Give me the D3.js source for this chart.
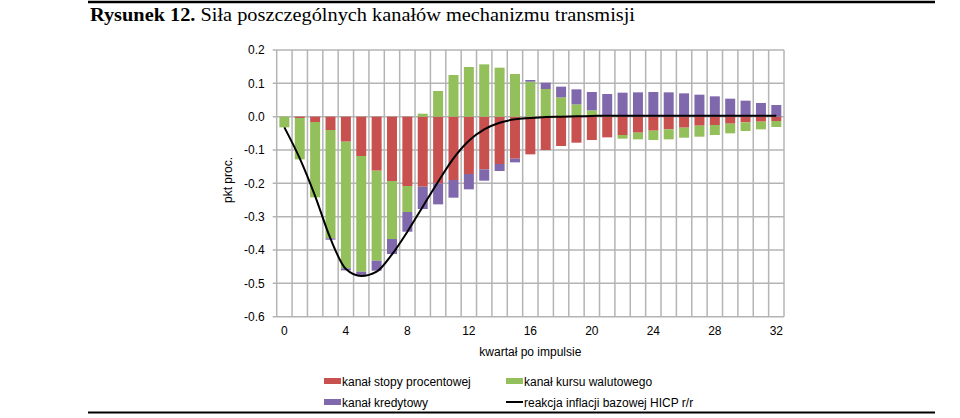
<!DOCTYPE html>
<html>
<head>
<meta charset="utf-8">
<script src="https://cdn.jsdelivr.net/npm/d3@7"></script>
<style>
  body { margin: 0; background: #fff; }
  text { font-family: "Liberation Sans", Arial, sans-serif; }
</style>
</head>
<body>
<svg id="draw" width="960" height="418"></svg>
<script>
// kwartały 0..32
var quarters = d3.range(0, 33);
var xTicks = [0, 4, 8, 12, 16, 20, 24, 28, 32];
var yTicks = [0.2, 0.1, 0.0, -0.1, -0.2, -0.3, -0.4, -0.5, -0.6];

// kanał stopy procentowej
var rateChannel = [0, -0.004, -0.016, -0.040, -0.075, -0.118, -0.162, -0.193, -0.208, -0.210,
  -0.200, -0.190, -0.172, -0.158, -0.142, -0.126, -0.113, -0.100, -0.088, -0.078,
  -0.070, -0.062, -0.055, -0.048, -0.042, -0.038, -0.033, -0.027, -0.025, -0.021,
  -0.017, -0.015, -0.013];
// kanał kursu walutowego
var fxChannel = [-0.032, -0.124, -0.226, -0.325, -0.380, -0.347, -0.270, -0.174, -0.078, 0.009,
  0.077, 0.125, 0.149, 0.157, 0.147, 0.128, 0.105, 0.083, 0.058, 0.037,
  0.019, 0.002, -0.011, -0.020, -0.028, -0.030, -0.030, -0.033, -0.030, -0.029,
  -0.026, -0.023, -0.018];
// kanał kredytowy
var creditChannel = [0, 0, 0, -0.004, -0.006, -0.012, -0.030, -0.045, -0.059, -0.067,
  -0.063, -0.053, -0.046, -0.034, -0.021, -0.011, 0.005, 0.019, 0.032, 0.045,
  0.055, 0.066, 0.072, 0.073, 0.074, 0.073, 0.070, 0.066, 0.061, 0.054,
  0.048, 0.041, 0.035];
// reakcja inflacji bazowej HICP r/r
var hicpResponse = [-0.032, -0.125, -0.238, -0.366, -0.457, -0.478, -0.465, -0.413, -0.345, -0.270,
  -0.195, -0.125, -0.072, -0.038, -0.018, -0.008, -0.004, -0.001, 0.000, 0.001,
  0.002, 0.003, 0.003, 0.003, 0.003, 0.003, 0.003, 0.003, 0.003, 0.003,
  0.003, 0.003, 0.003];

var seriesNames = ["kanał stopy procentowej", "kanał kursu walutowego", "kanał kredytowy"];
var colors = ["#c8504f", "#93c05a", "#7f68ac"];

var plotLeft = 276.7, plotRight = 784, plotTop = 50, plotBottom = 316.7;
var svg = d3.select("#draw");

var xScale = d3.scaleBand()
  .domain(quarters)
  .range([plotLeft, plotRight])
  .paddingInner(0.35)
  .paddingOuter(0.175);

var yScale = d3.scaleLinear()
  .domain([-0.6, 0.2])
  .range([plotBottom, plotTop]);

var step = xScale.step();

// title + rules
svg.append("line")
  .attr("x1", 88).attr("x2", 935).attr("y1", 2).attr("y2", 2)
  .attr("stroke", "#000").attr("stroke-width", 2.5);
var title = svg.append("text")
  .attr("x", 90).attr("y", 21)
  .style("font-family", "'Liberation Serif', 'DejaVu Serif', serif")
  .style("font-size", "18px");
title.append("tspan").attr("font-weight", "bold").text("Rysunek 12.");
title.append("tspan").text(" Siła poszczególnych kanałów mechanizmu transmisji");
title.attr("textLength", 545).attr("lengthAdjust", "spacingAndGlyphs");

svg.append("line")
  .attr("x1", 88).attr("x2", 935).attr("y1", 412.5).attr("y2", 412.5)
  .attr("stroke", "#000").attr("stroke-width", 2);

// grid
var grid = svg.append("g").attr("stroke", "#b4b4b4").attr("stroke-width", 1.5);
grid.selectAll(".hgrid")
  .data(yTicks)
  .enter().append("line")
  .attr("x1", plotLeft - 4).attr("x2", plotRight)
  .attr("y1", function(d) { return yScale(d); })
  .attr("y2", function(d) { return yScale(d); });
grid.selectAll(".vgrid")
  .data(d3.range(0, quarters.length + 1))
  .enter().append("line")
  .attr("x1", function(i) { return plotLeft + i * step; })
  .attr("x2", function(i) { return plotLeft + i * step; })
  .attr("y1", plotTop).attr("y2", plotBottom);

// y axis labels (plain hyphen as minus, like the original)
var fmt = d3.format(".1f");
svg.append("g")
  .attr("transform", "translate(" + plotLeft + ",0)")
  .call(d3.axisLeft(yScale).tickValues(yTicks).tickSize(0).tickPadding(12)
    .tickFormat(function(d) { return fmt(d).replace("\u2212", "-"); }))
  .call(function(g) { g.select(".domain").remove(); })
  .selectAll("text")
  .attr("fill", "#000")
  .style("font-size", "12px")
  .style("font-family", "'Liberation Sans', Arial, sans-serif");

// x axis labels
svg.append("g")
  .attr("transform", "translate(0," + plotBottom + ")")
  .call(d3.axisBottom(xScale).tickValues(xTicks).tickSize(0).tickPadding(10))
  .call(function(g) { g.select(".domain").remove(); })
  .selectAll("text")
  .attr("fill", "#000")
  .style("font-size", "12px")
  .style("font-family", "'Liberation Sans', Arial, sans-serif");

svg.append("text")
  .attr("x", (plotLeft + plotRight) / 2).attr("y", 356)
  .attr("text-anchor", "middle")
  .style("font-size", "12px")
  .text("kwartał po impulsie");

svg.append("text")
  .attr("transform", "translate(232,180) rotate(-90)")
  .attr("text-anchor", "middle")
  .style("font-size", "12px")
  .text("pkt proc.");

// stacked bars
var table = quarters.map(function(q, i) {
  return { q: q, s0: rateChannel[i], s1: fxChannel[i], s2: creditChannel[i] };
});
var stacked = d3.stack()
  .keys(["s0", "s1", "s2"])
  .offset(d3.stackOffsetDiverging)(table);

svg.selectAll(".series")
  .data(stacked)
  .enter().append("g")
  .attr("class", "series")
  .attr("fill", function(d, i) { return colors[i]; })
  .selectAll("rect")
  .data(function(d) { return d; })
  .enter().append("rect")
  .attr("x", function(d) { return xScale(d.data.q); })
  .attr("width", xScale.bandwidth())
  .attr("y", function(d) { return yScale(Math.max(d[0], d[1])); })
  .attr("height", function(d) { return Math.abs(yScale(d[0]) - yScale(d[1])); });

// line
var line = d3.line()
  .x(function(d, i) { return xScale(quarters[i]) + xScale.bandwidth() / 2; })
  .y(function(d) { return yScale(d); })
  .curve(d3.curveMonotoneX);

svg.append("path")
  .datum(hicpResponse)
  .attr("fill", "none")
  .attr("stroke", "#000")
  .attr("stroke-width", 2)
  .attr("d", line);

// legend
var legendItems = [
  { label: seriesNames[0], color: colors[0], x: 324, y: 381, type: "rect" },
  { label: seriesNames[1], color: colors[1], x: 506, y: 381, type: "rect" },
  { label: seriesNames[2], color: colors[2], x: 324, y: 402, type: "rect" },
  { label: "reakcja inflacji bazowej HICP r/r", color: "#000", x: 506, y: 402, type: "line" }
];
var legend = svg.selectAll(".legend")
  .data(legendItems)
  .enter().append("g")
  .attr("transform", function(d) { return "translate(" + d.x + "," + d.y + ")"; });
legend.filter(function(d) { return d.type == "rect"; })
  .append("rect")
  .attr("x", 0).attr("y", -3).attr("width", 17).attr("height", 6)
  .attr("fill", function(d) { return d.color; });
legend.filter(function(d) { return d.type == "line"; })
  .append("line")
  .attr("x1", 0).attr("x2", 17).attr("y1", 0).attr("y2", 0)
  .attr("stroke", "#000").attr("stroke-width", 2);
legend.append("text")
  .attr("x", 18).attr("y", 4.5)
  .style("font-size", "12px")
  .text(function(d) { return d.label; });
</script>
</body>
</html>
